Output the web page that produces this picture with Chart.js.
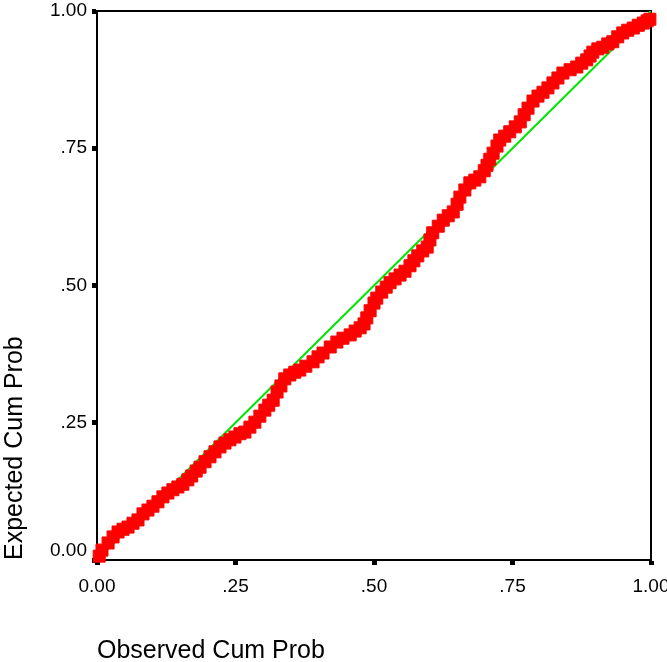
<!DOCTYPE html>
<html>
<head>
<meta charset="utf-8">
<title>P-P Plot</title>
<script src="https://cdn.jsdelivr.net/npm/chart.js@4.4.1/dist/chart.umd.min.js"></script>
<style>
  html, body { margin: 0; padding: 0; background: #fff; }
  #ppChart { display: block; }
</style>
</head>
<body>
<canvas id="ppChart" width="667" height="662"></canvas>
<script>
// Observed cumulative probability
const observed = [
  0.004, 0.009, 0.020, 0.029, 0.038, 0.047, 0.056, 0.065, 0.074, 0.083,
  0.092, 0.101, 0.110, 0.119, 0.128, 0.137, 0.146, 0.155, 0.164, 0.171,
  0.179, 0.186, 0.195, 0.204, 0.213, 0.222, 0.231, 0.240, 0.249, 0.258,
  0.267, 0.276, 0.285, 0.294, 0.303, 0.310, 0.318, 0.325, 0.332, 0.339,
  0.348, 0.357, 0.366, 0.377, 0.390, 0.399, 0.408, 0.421, 0.433, 0.444,
  0.457, 0.466, 0.475, 0.482, 0.487, 0.493, 0.500, 0.505, 0.514, 0.522,
  0.529, 0.538, 0.547, 0.556, 0.565, 0.572, 0.579, 0.588, 0.596, 0.601,
  0.606, 0.616, 0.625, 0.634, 0.643, 0.650, 0.655, 0.664, 0.673, 0.682,
  0.691, 0.699, 0.704, 0.709, 0.715, 0.722, 0.727, 0.736, 0.745, 0.755,
  0.764, 0.771, 0.778, 0.787, 0.796, 0.805, 0.814, 0.823, 0.832, 0.841,
  0.854, 0.866, 0.875, 0.884, 0.890, 0.895, 0.904, 0.913, 0.922, 0.931,
  0.940, 0.949, 0.958, 0.968, 0.977, 0.986, 0.993, 0.998
];

// Expected cumulative probability
const expected = [
  0.007, 0.018, 0.031, 0.042, 0.051, 0.056, 0.060, 0.067, 0.073, 0.084,
  0.091, 0.098, 0.106, 0.115, 0.122, 0.128, 0.133, 0.138, 0.146, 0.153,
  0.162, 0.169, 0.179, 0.188, 0.197, 0.206, 0.213, 0.219, 0.224, 0.230,
  0.233, 0.242, 0.251, 0.262, 0.273, 0.282, 0.291, 0.306, 0.317, 0.330,
  0.337, 0.342, 0.346, 0.353, 0.361, 0.370, 0.377, 0.388, 0.397, 0.404,
  0.410, 0.417, 0.423, 0.430, 0.441, 0.454, 0.468, 0.477, 0.488, 0.497,
  0.505, 0.512, 0.519, 0.526, 0.536, 0.545, 0.554, 0.563, 0.570, 0.583,
  0.596, 0.608, 0.619, 0.627, 0.634, 0.648, 0.661, 0.674, 0.687, 0.692,
  0.698, 0.709, 0.719, 0.730, 0.741, 0.754, 0.765, 0.772, 0.780, 0.789,
  0.798, 0.811, 0.823, 0.836, 0.845, 0.852, 0.860, 0.869, 0.878, 0.887,
  0.893, 0.898, 0.905, 0.911, 0.918, 0.925, 0.931, 0.934, 0.940, 0.944,
  0.953, 0.960, 0.965, 0.969, 0.974, 0.978, 0.982, 0.985
];

// Reference diagonal end points
const diagonal = [0, 1];

const tickValues = [0, 0.25, 0.5, 0.75, 1];
const tickLabels = ['0.00', '.25', '.50', '.75', '1.00'];

const points = observed.map((x, i) => ({ x: x, y: expected[i] }));
const diagPoints = diagonal.map(v => ({ x: v, y: v }));

function tickText(value) {
  const i = tickValues.findIndex(t => Math.abs(t - value) < 1e-6);
  return i >= 0 ? tickLabels[i] : '';
}

// the bottom y label sits a bit above its tick in the original
function yTickText(value) {
  const s = tickText(value);
  return value === 0 ? [s, ''] : s;
}

// Box around the plot area (top and right sides)
const frame = {
  id: 'frame',
  beforeDatasetsDraw(chart) {
    const { ctx, chartArea: a } = chart;
    ctx.save();
    ctx.strokeStyle = '#000';
    ctx.lineWidth = 2;
    ctx.strokeRect(a.left, a.top, a.right - a.left, a.bottom - a.top);
    ctx.restore();
  }
};

const tickFont = { family: 'Liberation Sans, Arial, sans-serif', size: 19, lineHeight: 1.0 };
const titleFont = { family: 'Liberation Sans, Arial, sans-serif', size: 25 };

new Chart(document.getElementById('ppChart'), {
  type: 'scatter',
  data: {
    datasets: [
      {
        label: 'Observed',
        data: points,
        pointStyle: 'rect',
        pointRadius: 8.5,
        pointBackgroundColor: '#ff0000',
        pointBorderColor: '#ff0000',
        pointBorderWidth: 1,
        showLine: false,
        clip: false,
        order: 0
      },
      {
        label: 'Diagonal',
        type: 'line',
        data: diagPoints,
        borderColor: '#00e600',
        borderWidth: 2,
        pointRadius: 0,
        fill: false,
        order: 1
      }
    ]
  },
  options: {
    responsive: false,
    animation: false,
    layout: { padding: { left: 0, right: 16, top: 11, bottom: 0 } },
    plugins: {
      legend: { display: false },
      tooltip: { enabled: false }
    },
    scales: {
      x: {
        type: 'linear',
        min: 0,
        max: 1,
        afterBuildTicks: (scale) => { scale.ticks = tickValues.map(v => ({ value: v })); },
        afterFit: (scale) => { scale.height = 102; scale.paddingLeft = 0; scale.paddingRight = 0; },
        ticks: { callback: tickText, color: '#000', font: tickFont, padding: 12, maxRotation: 0, autoSkip: false },
        grid: { drawOnChartArea: false, drawTicks: true, tickLength: 5, tickWidth: 5, tickColor: '#000' },
        border: { display: true, color: '#000', width: 2 },
        title: {
          display: true,
          text: 'Observed Cum Prob',
          align: 'start',
          color: '#000',
          font: titleFont,
          padding: { top: 0, bottom: -4 }
        }
      },
      y: {
        type: 'linear',
        min: 0,
        max: 1,
        afterBuildTicks: (scale) => { scale.ticks = tickValues.map(v => ({ value: v })); },
        afterFit: (scale) => { scale.width = 97; scale.paddingTop = 0; scale.paddingBottom = 0; },
        ticks: { callback: yTickText, color: '#000', font: tickFont, padding: 5, autoSkip: false },
        grid: { drawOnChartArea: false, drawTicks: true, tickLength: 5, tickWidth: 5, tickColor: '#000' },
        border: { display: true, color: '#000', width: 2 },
        title: {
          display: true,
          text: 'Expected Cum Prob',
          align: 'start',
          color: '#000',
          font: titleFont,
          padding: { top: 0, bottom: 0 }
        }
      }
    }
  },
  plugins: [frame]
});
</script>
</body>
</html>
